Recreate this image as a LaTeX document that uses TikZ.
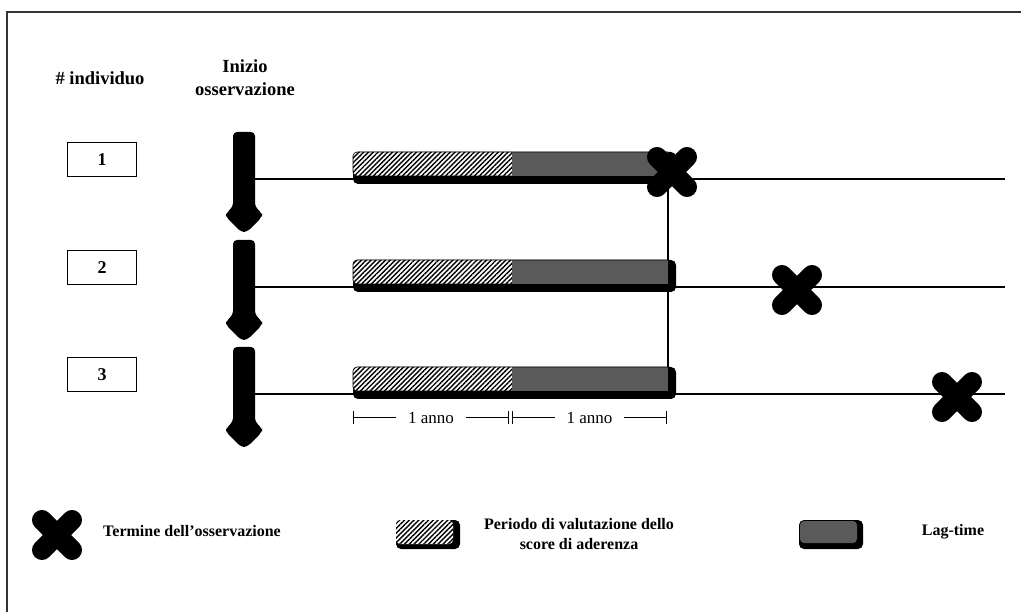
\documentclass[tikz,border=0pt]{standalone}
\usepackage{fontspec}
\setmainfont{Liberation Serif}
\usetikzlibrary{patterns,patterns.meta,arrows.meta}
\definecolor{framec}{HTML}{333333}
\definecolor{lagc}{HTML}{5A5A5A}
\tikzset{
  x=1pt, y=-1pt,
  lbl/.style={font=\fontsize{16}{20}\selectfont\bfseries, align=center, inner sep=0pt},
  hdr/.style={font=\fontsize{18.5}{23}\selectfont\bfseries, align=center, inner sep=0pt},
  numbox/.style={draw, line width=1pt, minimum width=69pt, minimum height=34pt,
    font=\fontsize{18}{20}\selectfont\bfseries, inner sep=0pt},
  tline/.style={line width=1.2pt},
  crossarm/.style={line width=20pt, line cap=round},
  dimline/.style={line width=1pt, {Bar[width=13pt]}-{Bar[width=13pt]}},
  dimtext/.style={fill=white, inner xsep=12pt, inner ysep=1pt, font=\fontsize{17}{19}\selectfont},
  hatchfill/.style={pattern={Lines[angle=45,distance=3.4pt,line width=1.4pt]}},
  endx/.pic={\draw[crossarm] (-15,-15) -- (15,15) (-15,15) -- (15,-15);},
  startarrow/.pic={\fill[rounded corners=4pt] (-11,-47) -- (11,-47) -- (11,28) -- (18,34)
      -- (18,38) -- (3,53) -- (-3,53) -- (-18,38) -- (-18,34) -- (-11,28) -- cycle;},
  twobar/.pic={
    \fill[rounded corners=5pt] (0,-27) rectangle (323,5);
    \fill[white, rounded corners=4pt] (0,-27) rectangle (162,-3);
    \fill[hatchfill, rounded corners=4pt] (0,-27) rectangle (162,-3);
    \fill[lagc] (159,-27) rectangle (315,-3);
    \draw[line width=0.6pt, rounded corners=4pt] (159,-3) -- (0,-3) -- (0,-27) -- (315,-27);
  },
  hatchkey/.pic={
    \fill[rounded corners=5pt] (0,0) rectangle (64,29);
    \fill[white, rounded corners=4pt] (0,0) rectangle (57,24);
    \fill[hatchfill, rounded corners=4pt] (0,0) rectangle (57,24);
  },
  lagkey/.pic={
    \fill[rounded corners=5pt] (0,0) rectangle (64,29);
    \fill[lagc, rounded corners=4pt] (1,1) rectangle (58,23);
  },
}
\begin{document}
\begin{tikzpicture}
\useasboundingbox (0,0) rectangle (1021,612);
% frame
\draw[framec, line width=1.5pt] (7,612) -- (7,12) -- (1021,12);

% headers
\node[hdr] (hind) at (100,78) {\# individuo};
\node[hdr] (hobs) at (245,78) {Inizio\\osservazione};

% number boxes
\node[numbox] (b1) at (102,160) {1};
\node[numbox] (b2) at (102,268) {2};
\node[numbox] (b3) at (102,375) {3};

% coordinates of rows
\coordinate (s1) at (244,179); \coordinate (e1) at (1005,179);
\coordinate (s2) at (244,287); \coordinate (e2) at (1005,287);
\coordinate (s3) at (244,394); \coordinate (e3) at (1005,394);
\coordinate (v1) at (668,179); \coordinate (v3) at (668,394);

% timelines
\draw[tline] (s1) -- (e1);
\draw[tline] (s2) -- (e2);
\draw[tline] (s3) -- (e3);
\draw[tline] (v1) -- (v3);

% start arrows
\pic at (s1) {startarrow};
\pic at (s2) {startarrow};
\pic at (s3) {startarrow};

% bars
\pic at (353,179) {twobar};
\pic at (353,287) {twobar};
\pic at (353,394) {twobar};

% end marks
\pic at (672,172) {endx};
\pic at (797,290) {endx};
\pic at (957,397) {endx};

% dimension lines
\coordinate (d0) at (353,418); \coordinate (d1) at (509,418);
\coordinate (d2) at (512,418); \coordinate (d3) at (667,418);
\draw[dimline] (d0) -- node[dimtext] (t1) {1 anno} (d1);
\draw[dimline] (d2) -- node[dimtext] (t2) {1 anno} (d3);

% legend
\pic at (57,535) {endx};
\node[lbl, anchor=west] (lg1) at (103,531) {Termine dell’osservazione};
\pic at (396,520) {hatchkey};
\node[lbl] (lg2) at (579,534) {Periodo di valutazione dello\\score di aderenza};
\pic at (799,520) {lagkey};
\node[lbl] (lg3) at (953,532) {Lag-time};
\end{tikzpicture}
\end{document}
